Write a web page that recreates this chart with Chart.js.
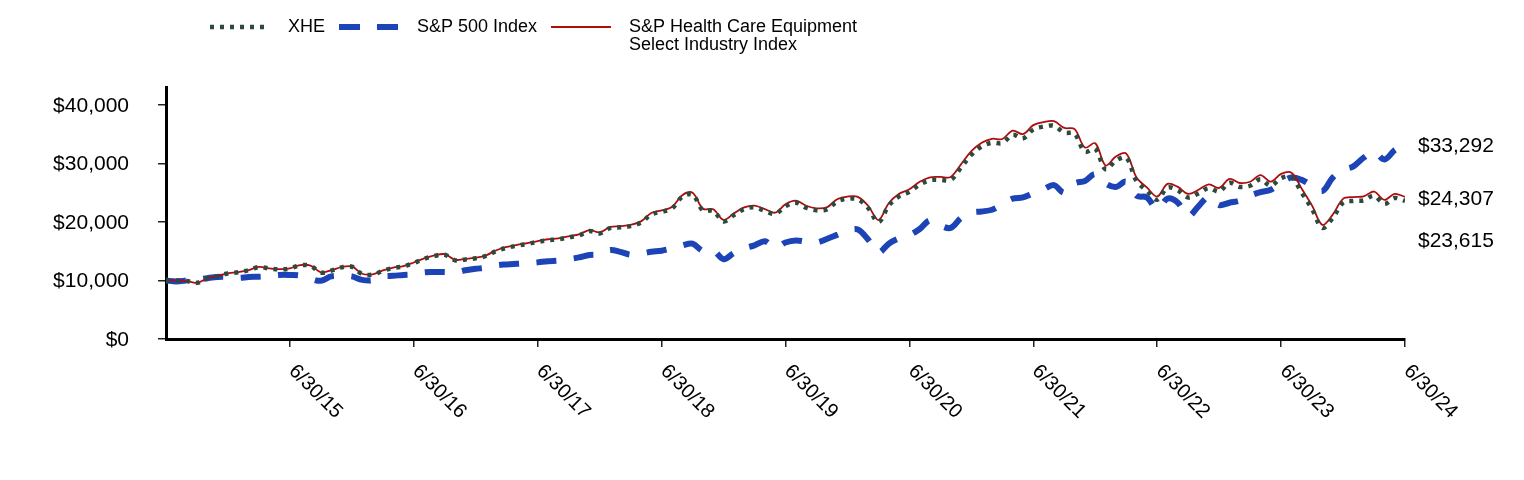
<!DOCTYPE html>
<html><head><meta charset="utf-8">
<script src="https://cdn.jsdelivr.net/npm/chart.js@4.4.0/dist/chart.umd.min.js"></script>
<style>html,body{margin:0;padding:0;background:#fff;}#wrap{position:relative;width:1524px;height:480px;}</style>
</head><body><div id="wrap"><canvas id="c" width="1524" height="480"></canvas></div>
<script>
// Month index 0 = 6/30/14 ... 120 = 6/30/24
const tickLabels = ['6/30/15','6/30/16','6/30/17','6/30/18','6/30/19','6/30/20','6/30/21','6/30/22','6/30/23','6/30/24'];
const tickMonths = [12,24,36,48,60,72,84,96,108,120];
const yTicks = [0,10000,20000,30000,40000];
const seriesNames = ['XHE','S&P 500 Index','S&P Health Care Equipment','Select Industry Index'];
const xhe = [10000,10000,9900,9600,10350,10750,11200,11400,11750,12300,12050,11900,
12050,12600,12500,11350,11700,12250,12350,11100,11000,11650,12150,12400,
13000,13700,14200,14400,13450,13600,13800,14200,15050,15600,15950,16250,
16600,16900,17050,17400,17700,18450,18050,18950,19100,19300,19900,21300,
21750,22300,24300,24700,22000,21900,20100,21200,22200,22500,21900,21400,
22700,23300,22450,22000,22150,23500,23950,23900,22400,20000,22800,24400,
25150,26400,27150,27200,27200,29300,31500,32900,33550,33500,34900,34300,
35800,36300,36450,35300,35100,32000,32500,29000,30500,31000,27000,25350,
23800,25900,25400,24200,24900,25800,25200,26700,26000,26200,27300,26200,
27500,27700,25000,22200,19000,20700,23300,23600,23700,24500,23100,24100,
23615];
const hce = [10000,10000,9900,9610,10360,10760,11220,11420,11770,12330,12080,11930,
12090,12640,12550,11400,11750,12300,12410,11160,11060,11720,12220,12470,
13080,13780,14290,14500,13540,13700,13900,14310,15170,15730,16090,16390,
16740,17050,17200,17560,17870,18630,18230,19140,19300,19500,20110,21530,
22000,22560,24590,25000,22270,22170,20350,21470,22490,22800,22200,21600,
23030,23640,22780,22340,22500,23880,24340,24300,22780,20340,23200,24820,
25590,26870,27640,27700,27710,29860,32110,33550,34230,34190,35630,35020,
36560,37080,37250,36080,35890,32730,33460,29680,31200,31700,27600,25920,
24360,26520,26000,24800,25510,26440,25830,27380,26670,26880,28010,26890,
28220,28430,25670,22800,19520,21270,23950,24270,24380,25210,23780,24810,
24307];
const sp500 = [10000,9850,10000,10150,10400,10600,10600,10450,10600,10650,10750,10950,
10950,10850,10300,9950,10700,10750,10700,10100,10050,10700,10800,10950,
11050,11400,11450,11450,11350,11750,12000,12200,12600,12750,12850,12950,
13100,13300,13400,13650,13950,14350,14500,15200,14900,14400,14600,14900,
15100,15500,16000,16300,15050,15150,13650,14700,15500,16000,16700,15600,
16500,16850,16650,16500,17100,17800,18500,18700,17000,14800,16300,17200,
17750,18800,20300,19400,19000,20700,21600,21800,22100,23000,24000,24200,
24900,25600,26300,25000,26600,27000,28200,26600,26000,26900,24500,24200,
22200,24000,23300,21000,22700,24300,22900,23300,23650,24500,25100,25500,
26700,27600,27200,26200,25300,27600,28900,29500,31000,32000,30700,32300,
33292];
const endLabels = ['$33,292','$24,307','$23,615'];

const GREEN = '#2d4a3e', BLUE = '#1c44b6', RED = '#b00c0c';
const FONT = '"Liberation Sans", Arial, sans-serif';
const pts = arr => arr.map((v, i) => ({x: i, y: v}));

const drawPlugin = {
  id: 'custom',
  afterDraw(chart) {
    const ctx = chart.ctx, xs = chart.scales.x, ys = chart.scales.y;
    ctx.save();
    ctx.fillStyle = '#000';
    // y tick labels
    ctx.font = '21px ' + FONT;
    ctx.textAlign = 'right'; ctx.textBaseline = 'middle';
    yTicks.forEach(v => ctx.fillText('$' + v.toLocaleString('en-US'), 129, ys.getPixelForValue(v) + 1));
    // x tick labels rotated
    ctx.font = '20px ' + FONT;
    ctx.textAlign = 'left'; ctx.textBaseline = 'top';
    tickMonths.forEach((m, k) => {
      const px = xs.getPixelForValue(m);
      ctx.save();
      ctx.translate(px + 9, 361);
      ctx.rotate(Math.PI / 4);
      ctx.fillText(tickLabels[k], 0, 0);
      ctx.restore();
    });
    // end labels
    ctx.font = '21px ' + FONT;
    ctx.textAlign = 'left'; ctx.textBaseline = 'middle';
    const lastIdx = sp500.length - 1;
    ctx.fillText(endLabels[0], 1418, ys.getPixelForValue(sp500[lastIdx]) + 2);
    ctx.fillText(endLabels[1], 1418, ys.getPixelForValue(hce[lastIdx]) + 2);
    ctx.fillText(endLabels[2], 1418, ys.getPixelForValue(xhe[lastIdx]) + 40);
    // legend
    const ly = 27;
    ctx.lineCap = 'butt';
    ctx.strokeStyle = GREEN; ctx.lineWidth = 4.5; ctx.setLineDash([4, 6]);
    ctx.beginPath(); ctx.moveTo(210, ly); ctx.lineTo(264, ly); ctx.stroke();
    ctx.strokeStyle = BLUE; ctx.lineWidth = 6; ctx.setLineDash([21, 17]);
    ctx.beginPath(); ctx.moveTo(339, ly); ctx.lineTo(398, ly); ctx.stroke();
    ctx.strokeStyle = RED; ctx.lineWidth = 2; ctx.setLineDash([]);
    ctx.beginPath(); ctx.moveTo(551, ly); ctx.lineTo(611, ly); ctx.stroke();
    ctx.font = '18px ' + FONT;
    ctx.fillText(seriesNames[0], 288, ly);
    ctx.fillText(seriesNames[1], 417, ly);
    ctx.fillText(seriesNames[2], 629, ly);
    ctx.fillText(seriesNames[3], 629, ly + 18);
    ctx.restore();
  }
};

new Chart(document.getElementById('c'), {
  type: 'line',
  data: {
    datasets: [
      {label: 'XHE', data: pts(xhe), borderColor: GREEN, borderWidth: 4.5, borderDash: [4, 6], pointRadius: 0, tension: 0.35, order: 0, fill: false},
      {label: 'S&P Health Care Equipment Select Industry Index', data: pts(hce), borderColor: RED, borderWidth: 1.8, pointRadius: 0, tension: 0.35, order: 1, fill: false},
      {label: 'S&P 500 Index', data: pts(sp500), borderColor: BLUE, borderWidth: 6, borderDash: [20, 17.5], pointRadius: 0, tension: 0.35, order: 2, fill: false}
    ]
  },
  options: {
    responsive: false, animation: false, devicePixelRatio: 1,
    layout: {padding: {left: 158, right: 119, top: 87, bottom: 133}},
    plugins: {legend: {display: false}, tooltip: {enabled: false}},
    scales: {
      x: {
        type: 'linear', min: 0, max: 120,
        border: {display: true, color: '#000', width: 3},
        grid: {drawOnChartArea: false, drawTicks: true, tickLength: 8, color: '#222', lineWidth: 1.5},
        ticks: {display: false, stepSize: 12},
        afterBuildTicks: s => { s.ticks = tickMonths.map(v => ({value: v})); }
      },
      y: {
        type: 'linear', min: 0, max: 43080,
        border: {display: true, color: '#000', width: 3},
        grid: {drawOnChartArea: false, drawTicks: true, tickLength: 8, color: '#222', lineWidth: 1.5},
        ticks: {display: false, stepSize: 10000},
        afterBuildTicks: s => { s.ticks = yTicks.map(v => ({value: v})); }
      }
    }
  },
  plugins: [drawPlugin]
});
</script></body></html>
